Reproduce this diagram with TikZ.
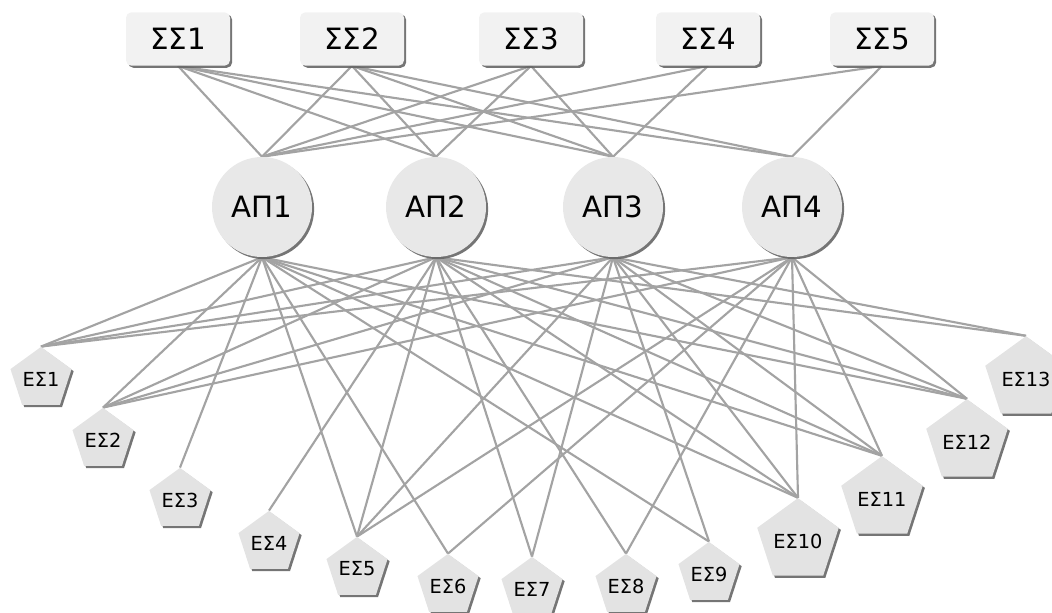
\documentclass[tikz,border=0pt]{standalone}
\usepackage{fontspec}
\setmainfont{DejaVu Sans}
\usetikzlibrary{shapes.geometric,shadows,backgrounds}
\begin{document}
\begin{tikzpicture}[x=0.75pt,y=-0.75pt,
  shd/.style={drop shadow={shadow xshift=1.6pt,shadow yshift=-1.6pt,fill=black!60,opacity=0.9}},
  sbox/.style={fill=black!5, rounded corners=4pt, minimum width=78pt, minimum height=40pt, inner sep=0pt, font=\fontsize{22}{26}\selectfont, shd},
  apc/.style={circle, fill=black!9, minimum size=75pt, inner sep=0pt, font=\fontsize{22}{26}\selectfont, shd},
  esp/.style={regular polygon, regular polygon sides=5, minimum size=48pt, inner sep=0pt, fill=black!11, font=\fontsize{14.5}{17}\selectfont, shd},
  link/.style={draw=black!36, line width=1.6pt}]
\useasboundingbox (0,0) rectangle (1052,613);
% top boxes
\node[sbox] (S1) at (178,39) {ΣΣ1};
\node[sbox] (S2) at (352,39) {ΣΣ2};
\node[sbox] (S3) at (531,39) {ΣΣ3};
\node[sbox] (S4) at (708,39) {ΣΣ4};
\node[sbox] (S5) at (882,39) {ΣΣ5};
% circles
\node[apc] (A1) at (262,207) {ΑΠ1};
\node[apc] (A2) at (436,207) {ΑΠ2};
\node[apc] (A3) at (613,207) {ΑΠ3};
\node[apc] (A4) at (792,207) {ΑΠ4};
% pentagons
\node[esp] (E1) at (41,379) {ΕΣ1};
\node[esp] (E2) at (103,440) {ΕΣ2};
\node[esp] (E3) at (180,500) {ΕΣ3};
\node[esp] (E4) at (269,543) {ΕΣ4};
\node[esp] (E5) at (357,569) {ΕΣ5};
\node[esp] (E6) at (448,586) {ΕΣ6};
\node[esp] (E7) at (532,589) {ΕΣ7};
\node[esp] (E8) at (626,586) {ΕΣ8};
\node[esp] (E9) at (709,574) {ΕΣ9};
\node[esp] (E10) at (798,541) {ΕΣ10};
\node[esp] (E11) at (882,499) {ΕΣ11};
\node[esp] (E12) at (967,442) {ΕΣ12};
\node[esp] (E13) at (1026,379) {ΕΣ13};
\begin{scope}[on background layer]
\foreach \a in {A1,A2,A3,A4} \draw[link] (S1.south) -- (\a.north);
\foreach \a in {A1,A2,A3,A4} \draw[link] (S2.south) -- (\a.north);
\foreach \a in {A1,A2,A3} \draw[link] (S3.south) -- (\a.north);
\foreach \a in {A1,A3} \draw[link] (S4.south) -- (\a.north);
\foreach \a in {A1,A4} \draw[link] (S5.south) -- (\a.north);
\foreach \e in {E1,E2,E3,E5,E6,E9,E10,E11,E12} \draw[link] (A1.south) -- (\e.corner 1);
\foreach \e in {E1,E2,E4,E5,E7,E8,E10,E11,E12,E13} \draw[link] (A2.south) -- (\e.corner 1);
\foreach \e in {E1,E2,E5,E7,E9,E10,E11,E12,E13} \draw[link] (A3.south) -- (\e.corner 1);
\foreach \e in {E1,E2,E5,E6,E8,E10,E11,E12} \draw[link] (A4.south) -- (\e.corner 1);
\end{scope}
\end{tikzpicture}
\end{document}
